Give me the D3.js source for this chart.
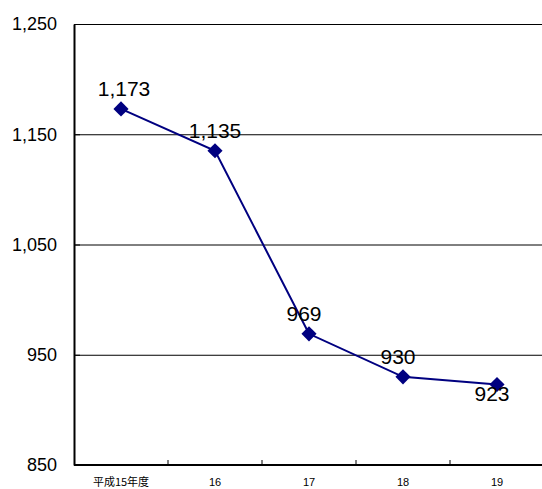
<html>
<head>
<meta charset="utf-8">
<script src="https://d3js.org/d3.v7.min.js"></script>
<style>
  body { margin: 0; background: #fff; }
  text { font-family: "Liberation Sans", Arial, sans-serif; }
</style>
</head>
<body>
<div id="chart"></div>
<script>
// data
var years = ["平成15年度", "16", "17", "18", "19"];
var counts = [1173, 1135, 969, 930, 923];
var yTicks = [850, 950, 1050, 1150, 1250];

var W = 542, H = 489;
var margin = {top: 24, right: -2, bottom: 24, left: 74};
var width = W - margin.left - margin.right,
    height = H - margin.top - margin.bottom;

var svg = d3.select("#chart").append("svg")
    .attr("width", W).attr("height", H)
  .append("g")
    .attr("transform", "translate(" + margin.left + "," + margin.top + ")");

var x = d3.scaleBand().domain(years).range([0, width]);
var y = d3.scaleLinear().domain([850, 1250]).range([height, 0]);

// horizontal grid lines
svg.selectAll(".grid")
  .data(yTicks.slice(1))
  .enter().append("line")
    .attr("x1", 0).attr("x2", width)
    .attr("y1", function(d) { return y(d) + 0.5 })
    .attr("y2", function(d) { return y(d) + 0.5 })
    .attr("stroke", "#000").attr("stroke-width", 1);

// y axis
var yAxis = svg.append("g")
  .call(d3.axisLeft(y).tickValues(yTicks).tickSizeInner(-6).tickSizeOuter(0)
    .tickFormat(d3.format(",")).tickPadding(17));
yAxis.select(".domain").attr("stroke", "#000").attr("stroke-width", 2);
yAxis.selectAll("text").style("font-size", "18px").attr("fill", "#000");

// x axis, ticks between categories
var xAxis = svg.append("g").attr("transform", "translate(0," + height + ")");
xAxis.append("line")
  .attr("x1", 0).attr("x2", width)
  .attr("stroke", "#000").attr("stroke-width", 2);
xAxis.selectAll(".sep")
  .data(years.slice(1))
  .enter().append("line")
    .attr("x1", function(d) { return x(d) }).attr("x2", function(d) { return x(d) })
    .attr("y1", 0).attr("y2", -5)
    .attr("stroke", "#000");
xAxis.selectAll(".lab")
  .data(years)
  .enter().append("text")
    .attr("x", function(d) { return x(d) + x.bandwidth() / 2 })
    .attr("y", 21)
    .attr("text-anchor", "middle")
    .style("font-size", "11px")
    .style("font-family", function(d, i) { return i == 0 ? "'Noto Sans CJK JP', sans-serif" : null })
    .text(function(d) { return d });

// line
svg.append("path")
  .datum(counts)
  .attr("fill", "none")
  .attr("stroke", "#000080")
  .attr("stroke-width", 2)
  .attr("d", d3.line()
    .x(function(d, i) { return x(years[i]) + x.bandwidth() / 2 })
    .y(function(d) { return y(d) }));

// diamond markers
svg.selectAll(".pt")
  .data(counts)
  .enter().append("path")
    .attr("d", d3.symbol().type(d3.symbolSquare).size(115))
    .attr("transform", function(d, i) {
      return "translate(" + (x(years[i]) + x.bandwidth() / 2) + "," + y(d) + ") rotate(45)"
    })
    .attr("fill", "#000080");

// value labels
svg.selectAll(".val")
  .data(counts)
  .enter().append("text")
    .attr("x", function(d, i) { return x(years[i]) + x.bandwidth() / 2 + (i == 0 ? 3 : i == 1 ? 0 : -5) })
    .attr("y", function(d, i) { return y(d) + (i == counts.length - 1 ? 16 : -13) })
    .attr("text-anchor", "middle")
    .style("font-size", "21px")
    .attr("fill", "#000")
    .text(function(d) { return d3.format(",")(d) });
</script>
</body>
</html>
